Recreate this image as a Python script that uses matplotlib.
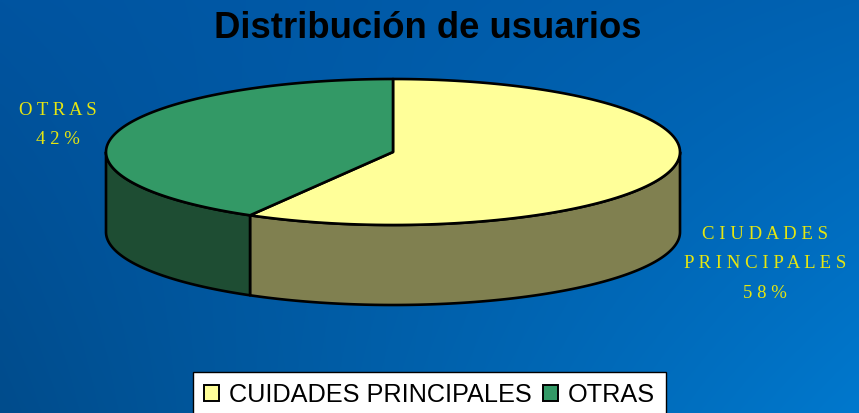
import numpy as np
import matplotlib
matplotlib.use("Agg")
import matplotlib.pyplot as plt
from matplotlib.patches import Patch

title = "Distribución de usuarios"
categories = ["CUIDADES PRINCIPALES", "OTRAS"]
label_lines = [["CIUDADES", "PRINCIPALES"], ["OTRAS"]]
shares = [58.3, 41.7]
top_colors = ["#FFFF99", "#339966"]
side_colors = ["#808050", "#1E4D33"]
text_yellow = "#E6E610"

W, H = 859, 413
fig = plt.figure(figsize=(W / 100, H / 100), dpi=100)
ax = fig.add_axes([0, 0, 1, 1])
ax.set_xlim(0, W)
ax.set_ylim(H, 0)
ax.axis("off")

# background gradient
corners = np.array([[[0, 84, 160], [0, 98, 178]],
                    [[0, 76, 140], [0, 120, 205]]], dtype=float) / 255
u = np.linspace(0, 1, 200)[None, :, None]
v = np.linspace(0, 1, 100)[:, None, None]
grad = (corners[0, 0] * (1 - u) * (1 - v) + corners[0, 1] * u * (1 - v)
        + corners[1, 0] * (1 - u) * v + corners[1, 1] * u * v)
ax.imshow(grad, extent=[0, W, H, 0], aspect="auto", zorder=0, interpolation="bilinear")

cx, cy, rx, ry, depth = 393, 152, 287, 73, 80


def rim(a0, a1, n=120):
    t = np.radians(np.linspace(a0, a1, n))
    return cx + rx * np.sin(t), cy - ry * np.cos(t)


fractions = np.array(shares) / sum(shares)
edges = np.concatenate([[0], np.cumsum(fractions) * 360])

# side walls (front half only)
for i in range(len(shares)):
    a0, a1 = max(edges[i], 90), min(edges[i + 1], 270)
    if a1 > a0:
        x, y = rim(a0, a1)
        px = np.concatenate([x, x[::-1]])
        py = np.concatenate([y, y[::-1] + depth])
        ax.fill(px, py, facecolor=side_colors[i], edgecolor="black", lw=1.9,
                joinstyle="round", zorder=2)
# top faces
for i in range(len(shares)):
    x, y = rim(edges[i], edges[i + 1])
    px = np.concatenate([[cx], x])
    py = np.concatenate([[cy], y])
    ax.fill(px, py, facecolor=top_colors[i], edgecolor="black", lw=1.9,
            joinstyle="round", zorder=3)

ax.text(428, 28, title, ha="center", va="center", fontsize=26.3, fontweight="bold",
        family="Liberation Sans", color="black", zorder=5)


def spaced(s):
    return " ".join(s)


label_pos = [(58, 125), (765, 264)]
label_order = [1, 0]
for idx, (lx, ly) in zip(label_order, label_pos):
    body = "\n".join(spaced(s) for s in label_lines[idx] + [f"{shares[idx]:.0f}%"])
    ax.text(lx, ly, body, ha="center", va="center", fontsize=13.5,
            family="Liberation Serif", color=text_yellow, linespacing=1.93, zorder=5)

handles = [Patch(facecolor=c, edgecolor="black", lw=1.4) for c in top_colors]
leg = fig.legend(handles, categories, loc="center", bbox_to_anchor=(429.5 / W, 1 - 395 / H),
                 ncol=2, frameon=True, fancybox=False, framealpha=1,
                 facecolor="white", edgecolor="black", handlelength=0.6, handleheight=0.6,
                 handletextpad=0.4, columnspacing=0.43, borderpad=0.43,
                 prop={"family": "Liberation Sans", "size": 18.2})
leg.get_frame().set_linewidth(1.0)

fig.savefig("out.png", dpi=100)
